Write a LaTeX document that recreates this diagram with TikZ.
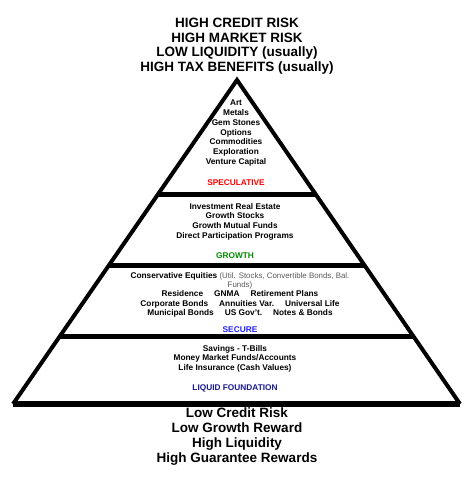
\documentclass[tikz,border=0pt]{standalone}
\usepackage{fontspec}
\setmainfont{Liberation Sans}
\usetikzlibrary{calc}
\definecolor{specred}{RGB}{255,0,0}
\definecolor{growgreen}{RGB}{0,140,0}
\definecolor{secblue}{RGB}{30,30,255}
\definecolor{liqnavy}{RGB}{25,25,140}
\newcommand{\capsize}{\fontsize{13.5}{14.6}\selectfont\bfseries}
\newcommand{\tiersize}{\fontsize{8.3}{9.7}\selectfont\bfseries}
\newcommand{\gap}{\hspace{11pt}}
\newcommand{\aside}{\fontsize{7.9}{9.1}\selectfont\mdseries\color{black!65}}

\begin{document}
\begin{tikzpicture}[x=1pt,y=-1pt,
  caption/.style={align=center,inner sep=0pt,anchor=north,font=\capsize},
  tiertext/.style={align=center,inner sep=0pt,anchor=north,font=\tiersize},
  tiername/.style={inner sep=0pt,anchor=base,font=\tiersize},
  band/.style={line width=5pt}]
\useasboundingbox (0,0) rectangle (470,487);
\coordinate (apex) at (237,80);
\coordinate (bl) at (13,404);
\coordinate (br) at (460,404);
% pyramid
\draw[line width=4pt,miter limit=10] (bl) -- (apex) -- (br);
\draw[line width=6pt] (bl) -- (br);
\draw[band] ($(apex)!0.352!(bl)$) -- ($(apex)!0.352!(br)$);
\draw[band] ($(apex)!0.574!(bl)$) -- ($(apex)!0.574!(br)$);
\draw[band] ($(apex)!0.793!(bl)$) -- ($(apex)!0.793!(br)$);
% top and bottom captions
\node[caption] (risk) at (237,18) {HIGH CREDIT RISK\\HIGH MARKET RISK\\LOW LIQUIDITY (usually)\\HIGH TAX BENEFITS (usually)};
\node[caption,font=\fontsize{13.5}{15}\selectfont\bfseries] (safe) at (237,407.5) {Low Credit Risk\\Low Growth Reward\\High Liquidity\\High Guarantee Rewards};
% tiers
\node[tiertext] (spec) at (236,100) {Art\\Metals\\Gem Stones\\Options\\Commodities\\Exploration\\Venture Capital};
\node[tiername,text=specred] (speclbl) at (236,185) {SPECULATIVE};
\node[tiertext] (grow) at (235,203) {Investment Real Estate\\Growth Stocks\\Growth Mutual Funds\\Direct Participation Programs};
\node[tiername,text=growgreen] (growlbl) at (235,258) {GROWTH};
\node[tiertext,font=\fontsize{8.3}{9.1}\selectfont\bfseries] (secure) at (240,272.5) {Conservative Equities {\aside(Util. Stocks, Convertible Bonds, Bal.}\\{\aside Funds)}\\Residence\gap GNMA\gap Retirement Plans\\Corporate Bonds\gap Annuities Var.\gap Universal Life\\Municipal Bonds\gap US Gov't.\gap Notes \& Bonds};
\node[tiername,text=secblue] (securelbl) at (240,332) {SECURE};
\node[tiertext,font=\fontsize{8.3}{9.5}\selectfont\bfseries] (liquid) at (235,345) {Savings - T-Bills\\Money Market Funds/Accounts\\Life Insurance (Cash Values)};
\node[tiername,text=liqnavy] (liquidlbl) at (235,390) {LIQUID FOUNDATION};
\end{tikzpicture}
\end{document}
